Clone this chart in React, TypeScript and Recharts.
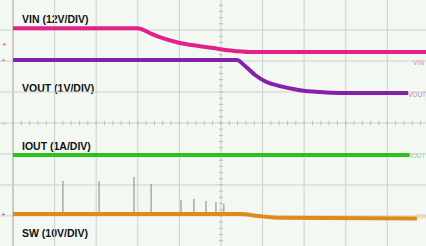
import { ComposedChart, Line, XAxis, YAxis, ReferenceLine, Customized } from "recharts";

// scope screen units: t in time divisions, v in vertical divisions
const vin = [
  { t: 0, v: 3.06 }, { t: 3.0, v: 3.06 }, { t: 3.29, v: 2.9 }, { t: 3.53, v: 2.77 },
  { t: 4.01, v: 2.58 }, { t: 4.5, v: 2.48 }, { t: 4.81, v: 2.42 }, { t: 5.22, v: 2.34 },
  { t: 5.7, v: 2.29 }, { t: 9.93, v: 2.29 },
];
const vout = [
  { t: 0, v: 2.03 }, { t: 5.38, v: 2.03 }, { t: 5.58, v: 1.84 }, { t: 5.82, v: 1.55 },
  { t: 6.06, v: 1.35 }, { t: 6.42, v: 1.19 }, { t: 6.9, v: 1.06 }, { t: 7.38, v: 1.0 },
  { t: 7.86, v: 0.97 }, { t: 9.5, v: 0.97 },
];
const iout = [{ t: 0, v: -1.03 }, { t: 9.54, v: -1.03 }];
const sw = [
  { t: 0, v: -2.94 }, { t: 5.46, v: -2.94 }, { t: 5.9, v: -3.0 }, { t: 6.42, v: -3.06 },
  { t: 9.71, v: -3.08 },
];
// switching spikes on SW: time and top level
const spikeT = [1.2, 2.07, 2.91, 3.32, 4.04, 4.35, 4.64, 4.88, 5.07];
const spikeTop = [-1.87, -1.87, -1.74, -1.97, -2.48, -2.45, -2.52, -2.55, -2.61];
const spikeBase = -2.94;

const gridX = [0, 1, 2, 3, 4, 5, 6, 7, 8, 9, 10];
const gridY = [-4, -3, -2, -1, 0, 1, 2, 3, 4];
const minorX = Array.from({ length: 51 }, (_, i) => i * 0.2);
const minorY = Array.from({ length: 41 }, (_, i) => -4 + i * 0.2);

const labels = [
  { text: "VIN (12V/DIV)", x: 22, y: 23 },
  { text: "VOUT (1V/DIV)", x: 22, y: 92 },
  { text: "IOUT (1A/DIV)", x: 22, y: 150 },
  { text: "SW (10V/DIV)", x: 22, y: 237 },
];
const endLabels = [
  { text: "VIN", x: 413, y: 65, color: "#e27ab8" },
  { text: "VOUT", x: 408, y: 97, color: "#b47ccc" },
  { text: "IOUT", x: 410, y: 158, color: "#8fd88a" },
  { text: "SW", x: 416, y: 219, color: "#f0c27a" },
];

const Texts = () => (
  <g fontFamily="'Liberation Sans', Arial, sans-serif">
    {labels.map((l) => (
      <text key={l.text} x={l.x} y={l.y} fontSize={10.5} fontWeight="bold" fill="#111">
        {l.text}
      </text>
    ))}
    {endLabels.map((l) => (
      <text key={l.text} x={l.x} y={l.y} fontSize={6.5} fill={l.color}>
        {l.text}
      </text>
    ))}
    <text x={2} y={47} fontSize={8} fill="#d03a90">+</text>
    <text x={1} y={63} fontSize={8} fill="#9030b0">+</text>
    <text x={2} y={126} fontSize={8} fill="#e0b060">+</text>
    <text x={1} y={217} fontSize={8} fill="#9040b0">+</text>
  </g>
);

export default function App() {
  return (
    <div style={{ position: "absolute", left: 0, top: 0, width: 426, height: 246, background: "#f4f8f2" }}>
      <ComposedChart width={426} height={246} margin={{ top: 0, right: 0, bottom: 0, left: 0 }}>
        <XAxis type="number" dataKey="t" domain={[-0.3125, 9.93]} hide allowDataOverflow />
        <YAxis type="number" dataKey="v" domain={[-3.97, 3.97]} hide allowDataOverflow />
        {gridX.map((x) => (
          <ReferenceLine key={"gx" + x} x={x} stroke={x === 0 ? "#9ea29e" : "#cdd1cd"} strokeWidth={1} />
        ))}
        {gridY.map((y) => (
          <ReferenceLine key={"gy" + y} y={y} stroke="#cdd1cd" strokeWidth={1} />
        ))}
        {minorX.map((x) => (
          <ReferenceLine key={"mx" + x} segment={[{ x, y: -0.07 }, { x, y: 0.07 }]} stroke="#b8bcb8" />
        ))}
        {minorY.map((y) => (
          <ReferenceLine key={"my" + y} segment={[{ x: 4.95, y }, { x: 5.05, y }]} stroke="#b8bcb8" />
        ))}
        {spikeT.map((t, i) => (
          <ReferenceLine key={"sp" + i} segment={[{ x: t, y: spikeBase }, { x: t, y: spikeTop[i] }]} stroke="#86867c" strokeWidth={1} />
        ))}
        <Line data={vin} dataKey="v" type="monotone" stroke="#e2228a" strokeWidth={4} dot={false} activeDot={false} isAnimationActive={false} />
        <Line data={vout} dataKey="v" type="monotone" stroke="#8420aa" strokeWidth={4} dot={false} activeDot={false} isAnimationActive={false} />
        <Line data={iout} dataKey="v" type="linear" stroke="#2cc21e" strokeWidth={4} dot={false} activeDot={false} isAnimationActive={false} />
        <Line data={sw} dataKey="v" type="monotone" stroke="#e08a1a" strokeWidth={4} dot={false} activeDot={false} isAnimationActive={false} />
        <Customized component={Texts} />
      </ComposedChart>
    </div>
  );
}
